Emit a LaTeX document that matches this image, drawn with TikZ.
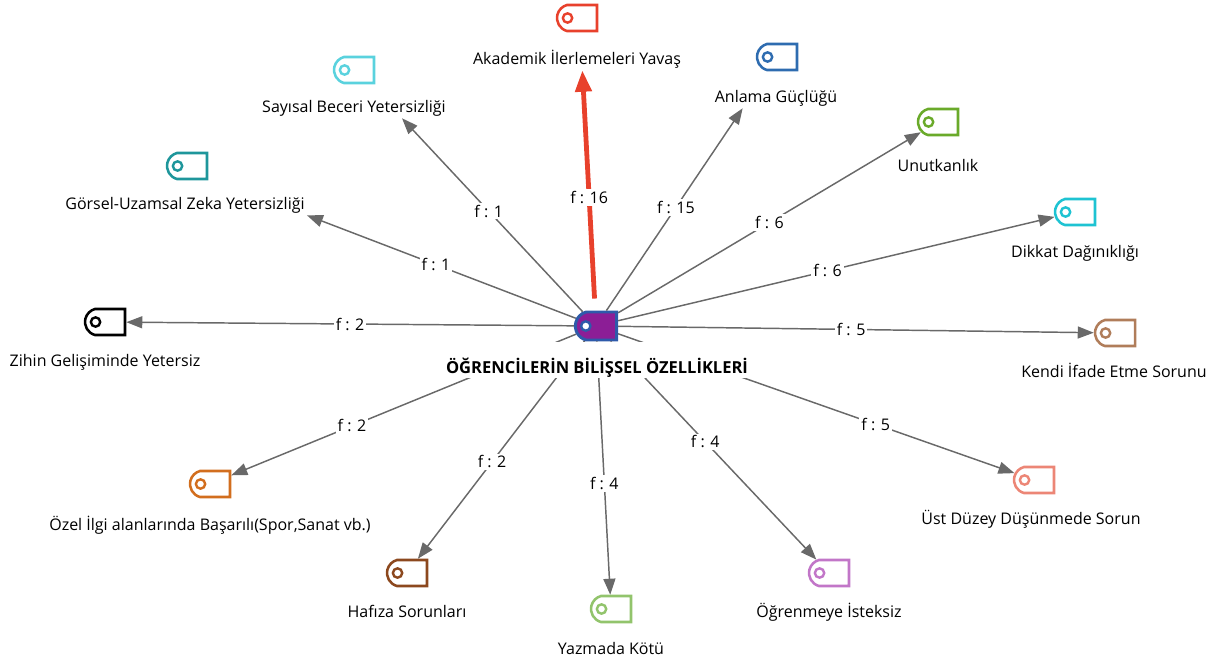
\documentclass[tikz,border=0pt]{standalone}
\usepackage{fontspec}
\setmainfont{Open Sans}
\usetikzlibrary{arrows.meta,shapes.misc}

\definecolor{akared}{RGB}{232,65,44}
\definecolor{anlblue}{RGB}{46,108,176}
\definecolor{unugreen}{RGB}{106,170,42}
\definecolor{dikcyan}{RGB}{30,195,210}
\definecolor{kenbrown}{RGB}{176,125,90}
\definecolor{ustsalmon}{RGB}{236,134,118}
\definecolor{ogrorchid}{RGB}{194,118,200}
\definecolor{yazgreen}{RGB}{146,196,108}
\definecolor{hafbrown}{RGB}{140,72,30}
\definecolor{ozeorange}{RGB}{210,110,30}
\definecolor{gorteal}{RGB}{30,150,155}
\definecolor{saycyan}{RGB}{90,210,222}
\definecolor{cenpurple}{RGB}{140,30,150}
\definecolor{cenblue}{RGB}{46,90,170}
\definecolor{linkgray}{RGB}{105,105,105}

\begin{document}
\begin{tikzpicture}[x=0.75pt,y=0.75pt,yscale=-1,xscale=1,
  tag/.style={rounded rectangle, rounded rectangle right arc=none, rounded rectangle arc length=150,
    draw=#1, fill=white, line width=1.9pt, minimum width=30pt, minimum height=19.5pt, inner sep=0pt,
    path picture={\draw[#1, fill=white, line width=1.8pt] ([xshift=9pt]path picture bounding box.west) circle (3.5pt);}},
  code/.style={inner sep=1.5pt, font=\fontsize{12}{14}\selectfont},
  link/.style={draw=linkgray, line width=1.1pt, -{Triangle[length=12pt,width=9pt]}},
  freq/.style={fill=white, inner sep=1.5pt, font=\fontsize{12}{14}\selectfont}]
\useasboundingbox (0,0) rectangle (1227,664);

% Center tag
\node[tag=cenblue, fill=cenpurple, line width=2.2pt, minimum width=31pt, minimum height=21pt] (cen) at (596,326) {};

% Tags
\node[tag=akared] (akaT) at (577,18) {};
\node[tag=anlblue] (anlT) at (777,57) {};
\node[tag=unugreen] (unuT) at (938,122) {};
\node[tag=dikcyan] (dikT) at (1075,212) {};
\node[tag=kenbrown] (kenT) at (1115,333) {};
\node[tag=ustsalmon] (ustT) at (1034,480) {};
\node[tag=ogrorchid] (ogrT) at (829,573) {};
\node[tag=yazgreen] (yazT) at (611,609) {};
\node[tag=hafbrown] (hafT) at (407,573) {};
\node[tag=ozeorange] (ozeT) at (210,484) {};
\node[tag=black] (zihT) at (105,322) {};
\node[tag=gorteal] (gorT) at (187,166) {};
\node[tag=saycyan] (sayT) at (354,70) {};

% Text Nodes
\node[code] (aka) at (577,59) {Akademik İlerlemeleri Yavaş};
\node[code] (anl) at (776,98) {Anlama Güçlüğü};
\node[code] (unu) at (938,165) {Unutkanlık};
\node[code] (dik) at (1075,253) {Dikkat Dağınıklığı};
\node[code] (ken) at (1114,370) {Kendi İfade Etme Sorunu};
\node[code] (ust) at (1031,519) {Üst Düzey Düşünmede Sorun};
\node[code] (ogr) at (829,612) {Öğrenmeye İsteksiz};
\node[code] (yaz) at (611,648) {Yazmada Kötü};
\node[code] (haf) at (407,611) {Hafıza Sorunları};
\node[code] (oze) at (210,525) {Özel İlgi alanlarında Başarılı(Spor,Sanat vb.)};
\node[code] (zih) at (105,362) {Zihin Gelişiminde Yetersiz};
\node[code] (gor) at (185,205) {Görsel-Uzamsal Zeka Yetersizliği};
\node[code] (say) at (354,108) {Sayısal Beceri Yetersizliği};

% Links
\draw[link, draw=akared, line width=3.6pt, -{Triangle[length=16pt,width=12pt]}, shorten <=9pt] (cen) -- node[freq, pos=0.47] {f : 16} ([xshift=4pt]aka.south);
\draw[link] (cen) -- node[freq, pos=0.51] {f : 15} ([xshift=-25pt]anl.south);
\draw[link] (cen) -- node[freq, pos=0.5] {f : 6} (unuT);
\draw[link] (cen) -- node[freq, pos=0.48] {f : 6} (dikT);
\draw[link] (cen) -- node[freq, pos=0.49] {f : 5} (kenT);
\draw[link] (cen) -- node[freq, pos=0.65] {f : 5} (ustT);
\draw[link] (cen) -- node[freq, pos=0.46] {f : 4} (ogrT);
\draw[link] (cen) -- node[freq, pos=0.56] {f : 4} (yazT);
\draw[link] (cen) -- node[freq, pos=0.555] {f : 2} (hafT);
\draw[link] (cen) -- node[freq, pos=0.65] {f : 2} (ozeT);
\draw[link] (cen) -- node[freq, pos=0.5] {f : 2} (zihT);
\draw[link] (cen) -- node[freq, pos=0.52] {f : 1} (gor.south east);
\draw[link] (cen) -- node[freq, pos=0.52] {f : 1} ([xshift=36pt]say.south);

% Title (white box hides the links below the tag)
\node[fill=white, anchor=base, inner xsep=2pt, inner ysep=0pt, text height=23pt, text depth=3.5pt,
  font=\bfseries\fontsize{12.4}{14}\selectfont] (title) at (597,373) {ÖĞRENCİLERİN BİLİŞSEL ÖZELLİKLERİ};

\end{tikzpicture}
\end{document}
